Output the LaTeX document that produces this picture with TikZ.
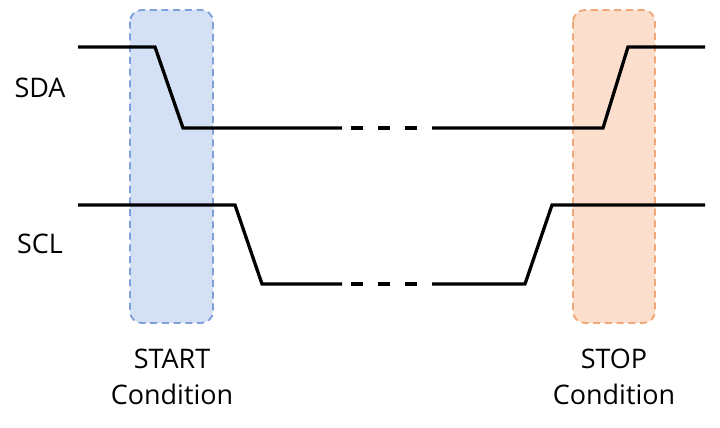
\documentclass[tikz,border=0pt]{standalone}
\usepackage{fontspec}
\setmainfont{Open Sans}
\usetikzlibrary{positioning}
\definecolor{startfill}{RGB}{212,224,244}
\definecolor{startline}{RGB}{128,160,220}
\definecolor{stopfill}{RGB}{251,222,204}
\definecolor{stopline}{RGB}{240,168,120}
\tikzset{
    wire/.style={black, line width=2.8pt},
    cond/.style={rounded corners=10pt, line width=1.6pt, dash pattern=on 6pt off 4pt},
    lbl/.style={font=\fontsize{23}{31}\selectfont, align=center}
}
\begin{document}
\begin{tikzpicture}[x=0.03cm, y=-0.03cm]
    \useasboundingbox (0,0) rectangle (720,428);

    % condition boxes
    \draw[cond, fill=startfill, draw=startline] (130,10) rectangle (213,323);
    \draw[cond, fill=stopfill, draw=stopline] (573,10) rectangle (655,323);

    % SDA
    \coordinate (a1) at (78,47);
    \coordinate (a2) at (155,47);
    \coordinate (a3) at (183,128);
    \coordinate (a4) at (342,128);
    \coordinate (a5) at (432,128);
    \coordinate (a6) at (603,128);
    \coordinate (a7) at (628,47);
    \coordinate (a8) at (705,47);
    \draw[wire] (a1) -- (a2) -- (a3) -- (a4);
    \draw[wire] (a5) -- (a6) -- (a7) -- (a8);

    % SCL
    \coordinate (c1) at (78,205);
    \coordinate (c2) at (235,205);
    \coordinate (c3) at (262,284);
    \coordinate (c4) at (342,284);
    \coordinate (c5) at (432,284);
    \coordinate (c6) at (525,284);
    \coordinate (c7) at (552,205);
    \coordinate (c8) at (705,205);
    \draw[wire] (c1) -- (c2) -- (c3) -- (c4);
    \draw[wire] (c5) -- (c6) -- (c7) -- (c8);

    % gaps
    \foreach \x in {351,378,405}
    {
        \draw[wire] (\x,128) -- (\x+12,128);
        \draw[wire] (\x,284) -- (\x+12,284);
    }

    % labels
    \node[lbl] (sda) at (40,88) {SDA};
    \node[lbl] (scl) at (40,244) {SCL};
    \node[lbl] (start) at (172,377) {START\\Condition};
    \node[lbl] (stop) at (614,377) {STOP\\Condition};
\end{tikzpicture}
\end{document}
